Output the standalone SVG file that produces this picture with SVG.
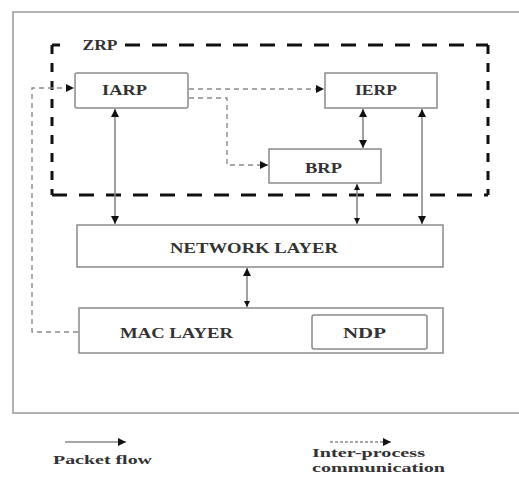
<svg xmlns="http://www.w3.org/2000/svg" width="519" height="477" viewBox="0 0 519 477">
<style>
.box{fill:#fff;stroke:#8a8a8a;stroke-width:1.5}
.t{font-family:"Liberation Serif",serif;font-weight:bold;font-size:15px;fill:#333;text-anchor:middle}
.lg{font-family:"Liberation Serif",serif;font-weight:bold;font-size:13px;fill:#333}
.pf{fill:none;stroke:#8a8a8a;stroke-width:1.6}
.ip{fill:none;stroke:#8a8a8a;stroke-width:1.4;stroke-dasharray:5,4}
</style>
<defs>
<marker id="ah" viewBox="0 0 10 10" refX="10" refY="5" markerWidth="8" markerHeight="8" markerUnits="userSpaceOnUse" orient="auto-start-reverse"><path d="M0,0 L10,5 L0,10 Z" fill="#111"/></marker>
<marker id="ahs" viewBox="0 0 10 10" refX="10" refY="5" markerWidth="6" markerHeight="6" markerUnits="userSpaceOnUse" orient="auto-start-reverse"><path d="M0,0 L10,5 L0,10 Z" fill="#111"/></marker>
</defs>
<rect width="519" height="477" fill="#fff"/>
<path d="M519,12 H13 V413 H519" fill="none" stroke="#999" stroke-width="1.5"/>
<g id="zrp">
<path d="M125,45 H488" fill="none" stroke="#111" stroke-width="3" stroke-dasharray="15,12"/>
<path d="M52,195 H488" fill="none" stroke="#111" stroke-width="3" stroke-dasharray="15,12"/>
<path d="M52,45 H60" fill="none" stroke="#111" stroke-width="3"/>
<path d="M52,45 V195" fill="none" stroke="#111" stroke-width="3" stroke-dasharray="9,9"/>
<path d="M488,45 V195" fill="none" stroke="#111" stroke-width="3" stroke-dasharray="9,9"/>
<text class="t" x="100" y="50" textLength="35" lengthAdjust="spacingAndGlyphs">ZRP</text>
</g>
<g id="connectors">
<path class="pf" d="M115,109 V224" marker-start="url(#ah)" marker-end="url(#ah)"/>
<path class="pf" d="M363,109 V148" marker-start="url(#ah)" marker-end="url(#ah)"/>
<path class="pf" d="M422,109 V224" marker-start="url(#ah)" marker-end="url(#ah)"/>
<path class="pf" d="M357,184 V224" marker-start="url(#ahs)" marker-end="url(#ahs)"/>
<path class="pf" d="M247,268 V307" marker-start="url(#ah)" marker-end="url(#ahs)"/>
<path class="ip" d="M78,332 H32 V88 H74" marker-end="url(#ah)"/>
<path class="ip" d="M189,89 H324" marker-end="url(#ah)"/>
<path class="ip" d="M189,98 H227 V165 H268" marker-end="url(#ah)"/>
</g>
<g id="iarp"><rect class="box" x="75" y="73" width="113" height="35" rx="2"/><text class="t" x="124.5" y="95" textLength="45" lengthAdjust="spacingAndGlyphs">IARP</text></g>
<g id="ierp"><rect class="box" x="325" y="73" width="112" height="35"/><text class="t" x="376" y="95" textLength="42" lengthAdjust="spacingAndGlyphs">IERP</text></g>
<g id="brp"><rect class="box" x="269" y="149" width="112" height="34"/><text class="t" x="323.5" y="173" textLength="37" lengthAdjust="spacingAndGlyphs">BRP</text></g>
<g id="network"><rect class="box" x="77" y="225" width="366" height="42"/><text class="t" x="254" y="253" textLength="168" lengthAdjust="spacingAndGlyphs">NETWORK LAYER</text></g>
<g id="mac"><rect class="box" x="79" y="308" width="364" height="45"/><text class="t" x="176.5" y="338" textLength="113" lengthAdjust="spacingAndGlyphs">MAC LAYER</text></g>
<g id="ndp"><rect class="box" x="312" y="315" width="115" height="34" rx="2"/><text class="t" x="364.5" y="338" textLength="43" lengthAdjust="spacingAndGlyphs">NDP</text></g>
<g id="legend">
<path class="pf" d="M65,442 H126" marker-end="url(#ah)"/>
<text class="lg" x="53" y="464" textLength="99" lengthAdjust="spacingAndGlyphs">Packet flow</text>
<path class="ip" style="stroke-dasharray:3,2" d="M330,442 H391" marker-end="url(#ah)"/>
<text class="lg" x="312" y="457" textLength="113" lengthAdjust="spacingAndGlyphs">Inter-process</text>
<text class="lg" x="312" y="472" textLength="133" lengthAdjust="spacingAndGlyphs">communication</text>
</g>
</svg>
